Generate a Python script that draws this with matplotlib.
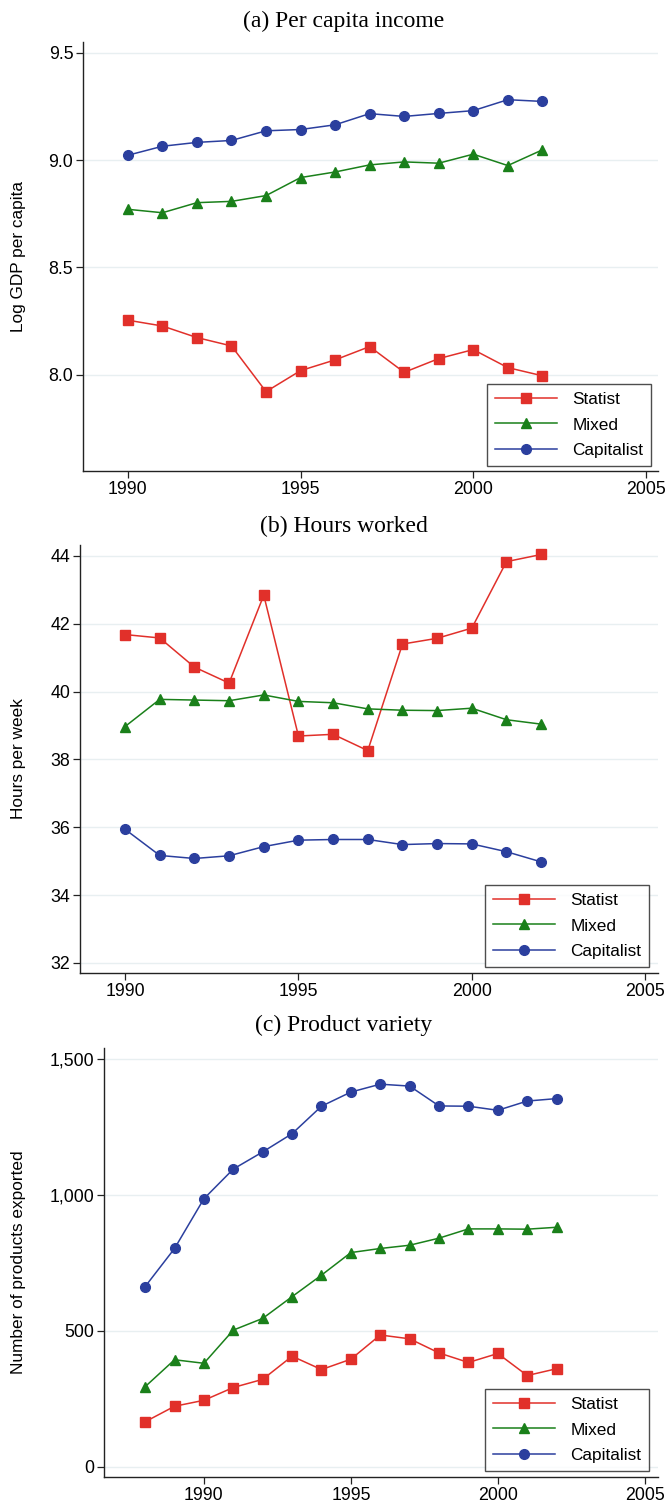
import numpy as np
import matplotlib
matplotlib.use("Agg")
import matplotlib.pyplot as plt
from matplotlib.ticker import FuncFormatter

# panel (a) per capita income
years_a = list(range(1990, 2003))
gdp_statist = [8.254, 8.227, 8.173, 8.134, 7.921, 8.019, 8.069, 8.131, 8.011, 8.075, 8.117, 8.033, 7.995]
gdp_mixed = [8.771, 8.755, 8.802, 8.808, 8.835, 8.919, 8.945, 8.978, 8.992, 8.986, 9.028, 8.975, 9.048]
gdp_capitalist = [9.023, 9.065, 9.083, 9.092, 9.137, 9.143, 9.165, 9.217, 9.204, 9.218, 9.231, 9.282, 9.274]

# panel (b) hours worked
years_b = list(range(1990, 2003))
hrs_statist = [41.68, 41.58, 40.72, 40.25, 42.84, 38.69, 38.74, 38.26, 41.40, 41.57, 41.87, 43.83, 44.04]
hrs_mixed = [38.97, 39.77, 39.75, 39.73, 39.90, 39.71, 39.67, 39.49, 39.45, 39.44, 39.51, 39.17, 39.04]
hrs_capitalist = [35.94, 35.17, 35.08, 35.16, 35.43, 35.62, 35.64, 35.64, 35.49, 35.52, 35.51, 35.28, 34.98]

# panel (c) product variety
years_c = list(range(1988, 2003))
prod_statist = [166, 223, 245, 292, 322, 407, 358, 396, 485, 471, 419, 384, 417, 336, 361]
prod_mixed = [295, 394, 381, 503, 546, 626, 705, 788, 803, 815, 841, 875, 875, 874, 881]
prod_capitalist = [663, 803, 986, 1095, 1158, 1225, 1326, 1378, 1407, 1400, 1327, 1326, 1311, 1345, 1354]

labels = ["Statist", "Mixed", "Capitalist"]
colors = ["#e1302a", "#1a801a", "#2b3f9e"]
markers = ["s", "^", "o"]

plt.rcParams['font.family'] = ['Liberation Sans', 'DejaVu Sans']

fig = plt.figure(figsize=(6.66, 15.04), dpi=100)
W, H = 666.0, 1504.0
RIGHT = 658

panels = [
    dict(box=(83, 42, 471), title="(a) Per capita income", title_y=27, ylabel="Log GDP per capita",
         years=years_a, series=[gdp_statist, gdp_mixed, gdp_capitalist],
         ylim=(7.551, 9.551), yticks=[8.0, 8.5, 9.0, 9.5], xlim=(1988.70, 2005.35),
         leg=(651, 466), fmt=lambda v, p: "%.1f" % v),
    dict(box=(80, 545, 973), title="(b) Hours worked", title_y=532, ylabel="Hours per week",
         years=years_b, series=[hrs_statist, hrs_mixed, hrs_capitalist],
         ylim=(31.705, 44.32), yticks=[32, 34, 36, 38, 40, 42, 44], xlim=(1988.70, 2005.37),
         leg=(649, 967), fmt=lambda v, p: "%d" % v),
    dict(box=(104, 1048, 1477), title="(c) Product variety", title_y=1031, ylabel="Number of products exported",
         years=years_c, series=[prod_statist, prod_mixed, prod_capitalist],
         ylim=(-37, 1540), yticks=[0, 500, 1000, 1500], xlim=(1986.6, 2005.45),
         leg=(649, 1471), fmt=lambda v, p: "{:,.0f}".format(v)),
]

for pn in panels:
    l, t, b = pn["box"]
    ax = fig.add_axes([l / W, 1 - b / H, (RIGHT - l) / W, (b - t) / H])
    for s, lab, c, m in zip(pn["series"], labels, colors, markers):
        ax.plot(pn["years"], s, color=c, marker=m, markersize=7 if m != "^" else 7.5,
                linewidth=1.1, label=lab, zorder=3)
    ax.set_xlim(*pn["xlim"])
    ax.set_ylim(*pn["ylim"])
    ax.set_yticks(pn["yticks"])
    ax.set_xticks([1990, 1995, 2000, 2005])
    ax.yaxis.set_major_formatter(FuncFormatter(pn["fmt"]))
    ax.grid(axis="y", color="#e8eff1", linewidth=1.0, zorder=0)
    ax.set_axisbelow(True)
    for sp in ["top", "right"]:
        ax.spines[sp].set_visible(False)
    for sp in ["left", "bottom"]:
        ax.spines[sp].set_linewidth(1.0)
        ax.spines[sp].set_color("#222222")
    ax.tick_params(axis="both", direction="out", length=5, width=0.9, labelsize=12.8,
                   colors="#222222", labelcolor="black", pad=2)
    # y label placed by pixel position, like the reference
    fig.text(19 / W, 1 - (t + b) / 2 / H, pn["ylabel"], rotation=90, ha="center", va="center",
             fontsize=12.4)
    fig.text(344 / W, 1 - pn["title_y"] / H, pn["title"], ha="center", va="baseline",
             fontsize=17, family=["Liberation Serif", "DejaVu Serif"])
    lx, ly = pn["leg"]
    leg = ax.legend(loc="lower right", bbox_to_anchor=((lx - l) / (RIGHT - l), (b - ly) / (b - t)),
                    borderaxespad=0, fontsize=12.4, frameon=True, fancybox=False,
                    edgecolor="#222222", handlelength=3.6, borderpad=0.45, labelspacing=0.62,
                    handletextpad=0.9)
    leg.get_frame().set_linewidth(1.0)

fig.savefig("out.png", dpi=100)
